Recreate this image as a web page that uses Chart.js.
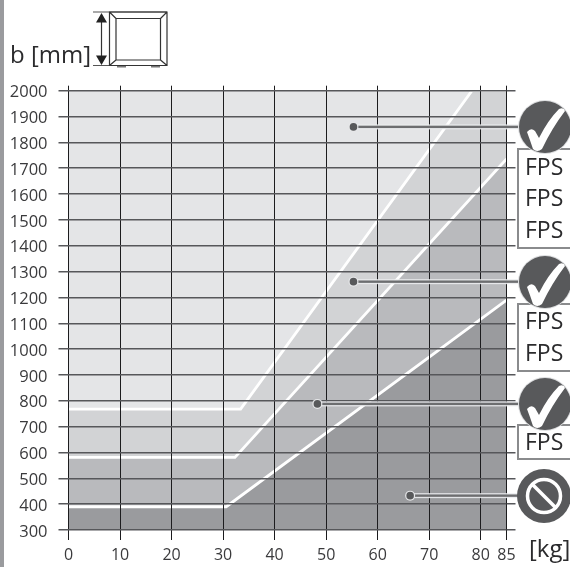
<!DOCTYPE html>
<html>
<head>
<meta charset="utf-8">
<title>b [mm] / [kg]</title>
<script src="https://cdn.jsdelivr.net/npm/chart.js@4/dist/chart.umd.min.js"></script>
<style>
  html, body { margin: 0; padding: 0; background: #fff; overflow: hidden; }
  #wrap { position: relative; width: 570px; height: 567px; }
  #stripe { position: absolute; left: 0; top: 0; width: 4px; height: 567px; background: #9a9b9e; }
  canvas { position: absolute; left: 0; top: 0; }
</style>
</head>
<body>
<div id="wrap">
  <canvas id="chart" width="570" height="567"></canvas>
  <div id="stripe"></div>
</div>
<script>
// Tick labels
const xTicks = [0, 10, 20, 30, 40, 50, 60, 70, 80, 85];
const yTicks = [300, 400, 500, 600, 700, 800, 900, 1000, 1100, 1200, 1300, 1400, 1500, 1600, 1700, 1800, 1900, 2000];

// Band limits
const limit1X = [0, 33.4, 78.3, 85];
const limit1Y = [768, 768, 2000, 2000];
const limit2X = [0, 32.3, 85];
const limit2Y = [581, 581, 1736];
const limit3X = [0, 30.6, 85];
const limit3Y = [390, 390, 1190];
const topX = [0, 85];
const topY = [2000, 2000];

// Leader dots
const dotX = [55.3, 55.3, 48.3, 66.3];
const dotY = [1860, 1261, 788, 433];

// FPS labels per box
const boxLabels = [["FPS", "FPS", "FPS"], ["FPS", "FPS"], ["FPS"]];

const points = (xs, ys) => xs.map((x, i) => ({ x: x, y: ys[i] }));

const DARK = "#58595b";
const INK = "#3a3a3c";

function drawCheck(ctx, cx, cy) {
  ctx.beginPath();
  ctx.arc(cx, cy, 27, 0, Math.PI * 2);
  ctx.fillStyle = "#dcdddf";
  ctx.fill();
  ctx.beginPath();
  ctx.arc(cx, cy, 26, 0, Math.PI * 2);
  ctx.fillStyle = DARK;
  ctx.fill();
  ctx.beginPath();
  ctx.moveTo(cx - 18, cy + 5);
  ctx.quadraticCurveTo(cx - 14, cy, cx - 10, cy + 4);
  ctx.lineTo(cx - 6, cy + 11);
  ctx.quadraticCurveTo(cx + 3, cy - 7, cx + 14, cy - 18);
  ctx.quadraticCurveTo(cx + 19, cy - 20, cx + 20, cy - 16);
  ctx.quadraticCurveTo(cx + 7, cy + 1, cx - 3, cy + 22);
  ctx.quadraticCurveTo(cx - 8, cy + 26, cx - 12, cy + 22);
  ctx.quadraticCurveTo(cx - 15, cy + 13, cx - 18, cy + 5);
  ctx.closePath();
  ctx.fillStyle = "#fff";
  ctx.fill();
}

function drawForbidden(ctx, cx, cy) {
  ctx.beginPath();
  ctx.arc(cx, cy, 27, 0, Math.PI * 2);
  ctx.fillStyle = DARK;
  ctx.fill();
  ctx.strokeStyle = "#fff";
  ctx.lineWidth = 3.5;
  ctx.beginPath();
  ctx.arc(cx, cy, 16.5, 0, Math.PI * 2);
  ctx.stroke();
  ctx.beginPath();
  ctx.moveTo(cx - 11.5, cy - 11.5);
  ctx.lineTo(cx + 11.5, cy + 11.5);
  ctx.stroke();
}

function drawBox(ctx, top, bottom, rows, firstRow, step) {
  ctx.fillStyle = "#fff";
  ctx.fillRect(518, top, 60, bottom - top);
  ctx.strokeStyle = "#8a8b8d";
  ctx.lineWidth = 2;
  ctx.strokeRect(518, top, 60, bottom - top);
  ctx.fillStyle = "#2b2b2d";
  ctx.font = "23px 'Open Sans'";
  ctx.textAlign = "left";
  ctx.textBaseline = "middle";
  rows.forEach((t, i) => ctx.fillText(t, 525, firstRow + i * step));
}

function drawHeader(ctx) {
  ctx.strokeStyle = "#555";
  ctx.lineWidth = 1.2;
  ctx.beginPath();
  ctx.moveTo(93, 12); ctx.lineTo(167, 12);
  ctx.moveTo(93, 65.5); ctx.lineTo(167, 65.5);
  ctx.stroke();

  ctx.strokeStyle = "#333";
  ctx.beginPath();
  ctx.rect(109.5, 12, 57.5, 53.5);
  ctx.rect(116, 18.5, 44.5, 41.5);
  ctx.moveTo(109.5, 12); ctx.lineTo(116, 18.5);
  ctx.moveTo(167, 12); ctx.lineTo(160.5, 18.5);
  ctx.moveTo(109.5, 65.5); ctx.lineTo(116, 60);
  ctx.moveTo(167, 65.5); ctx.lineTo(160.5, 60);
  ctx.stroke();

  ctx.beginPath();
  ctx.moveTo(101.5, 20); ctx.lineTo(101.5, 58);
  ctx.stroke();
  ctx.fillStyle = "#222";
  ctx.beginPath();
  ctx.moveTo(101.5, 13); ctx.lineTo(107, 22.5); ctx.lineTo(96, 22.5); ctx.closePath();
  ctx.moveTo(101.5, 65); ctx.lineTo(107, 55.5); ctx.lineTo(96, 55.5); ctx.closePath();
  ctx.fill();

  // small feet under the cabinet
  ctx.fillStyle = "#777";
  ctx.fillRect(117, 66, 9, 1.5);
  ctx.fillRect(151, 66, 9, 1.5);

  ctx.fillStyle = "#2b2b2d";
  ctx.font = "24px 'Open Sans'";
  ctx.textAlign = "left";
  ctx.textBaseline = "alphabetic";
  ctx.fillText("b [mm]", 10, 63);
}

// Everything that sits outside or on top of the grid
const overlay = {
  id: "overlay",
  afterDraw(chart) {
    const ctx = chart.ctx;
    const x = chart.scales.x;
    const y = chart.scales.y;
    ctx.save();

    dotX.forEach((v, i) => {
      const px = x.getPixelForValue(v);
      const py = y.getPixelForValue(dotY[i]);
      ctx.fillStyle = "rgba(235,236,238,0.9)";
      ctx.fillRect(px, py - 2.5, 518 - px, 5);
      ctx.fillStyle = "#6d6e70";
      ctx.fillRect(px, py - 1.2, 518 - px, 2.4);
      ctx.beginPath();
      ctx.arc(px, py, 5, 0, Math.PI * 2);
      ctx.fillStyle = "#e6e7e9";
      ctx.fill();
      ctx.beginPath();
      ctx.arc(px, py, 3.8, 0, Math.PI * 2);
      ctx.fillStyle = "#58595b";
      ctx.fill();
    });

    drawBox(ctx, 149, 248, boxLabels[0], 168, 31.5);
    drawBox(ctx, 304, 371, boxLabels[1], 322, 32.5);
    drawBox(ctx, 425, 459, boxLabels[2], 443, 0);

    drawCheck(ctx, 545, 127);
    drawCheck(ctx, 545, 282);
    drawCheck(ctx, 545, 404);
    drawForbidden(ctx, 544, 496);

    drawHeader(ctx);

    ctx.fillStyle = "#2b2b2d";
    ctx.font = "24px 'Open Sans'";
    ctx.textAlign = "left";
    ctx.textBaseline = "alphabetic";
    ctx.fillText("[kg]", 529, 557);
    ctx.restore();
  }
};

const band = (xs, ys, color) => ({
  data: points(xs, ys),
  borderColor: "#fff",
  borderWidth: 2.8,
  backgroundColor: color,
  fill: "start",
  pointRadius: 0,
  tension: 0
});

new Chart(document.getElementById("chart"), {
  type: "line",
  data: {
    datasets: [
      band(limit3X, limit3Y, "#9a9b9e"),
      band(limit2X, limit2Y, "#b9babd"),
      band(limit1X, limit1Y, "#d2d3d5"),
      { data: points(topX, topY), borderWidth: 0, backgroundColor: "#e4e5e7", fill: "start", pointRadius: 0 }
    ]
  },
  plugins: [overlay],
  options: {
    responsive: false,
    animation: false,
    layout: { padding: { top: 85.7, right: 54.5, left: 0, bottom: 0 } },
    plugins: { legend: { display: false }, tooltip: { enabled: false } },
    scales: {
      x: {
        type: "linear",
        min: 0,
        max: 85,
        afterBuildTicks: s => { s.ticks = xTicks.map(v => ({ value: v })); },
        afterFit: s => { s.height = 37; },
        grid: { color: "#1c1c1e", lineWidth: 1, tickLength: 10, z: 1 },
        border: { display: false },
        ticks: { color: INK, font: { family: "Open Sans", size: 16 }, padding: 6, maxRotation: 0, autoSkip: false, callback: v => String(v) }
      },
      xTop: {
        type: "linear",
        position: "top",
        min: 0,
        max: 85,
        afterBuildTicks: s => { s.ticks = xTicks.map(v => ({ value: v })); },
        afterFit: s => { s.height = 5; },
        grid: { color: "#1c1c1e", lineWidth: 1, tickLength: 5, drawOnChartArea: false, z: 1 },
        border: { display: false },
        ticks: { display: false }
      },
      y: {
        min: 300,
        max: 2000,
        afterBuildTicks: s => { s.ticks = yTicks.map(v => ({ value: v })); },
        afterFit: s => { s.width = 68.5; },
        grid: { color: "#56575a", lineWidth: 1.5, tickLength: 10, z: 1 },
        border: { display: false },
        ticks: { color: INK, font: { family: "Open Sans", size: 16.5 }, padding: 11, labelOffset: 2, autoSkip: false, callback: v => String(v) }
      },
      yRight: {
        position: "right",
        min: 300,
        max: 2000,
        afterBuildTicks: s => { s.ticks = yTicks.map(v => ({ value: v })); },
        afterFit: s => { s.width = 9; },
        grid: { color: "#56575a", lineWidth: 1.5, tickLength: 9, drawOnChartArea: false, z: 1 },
        border: { display: false },
        ticks: { display: false }
      }
    }
  }
});
</script>
</body>
</html>
